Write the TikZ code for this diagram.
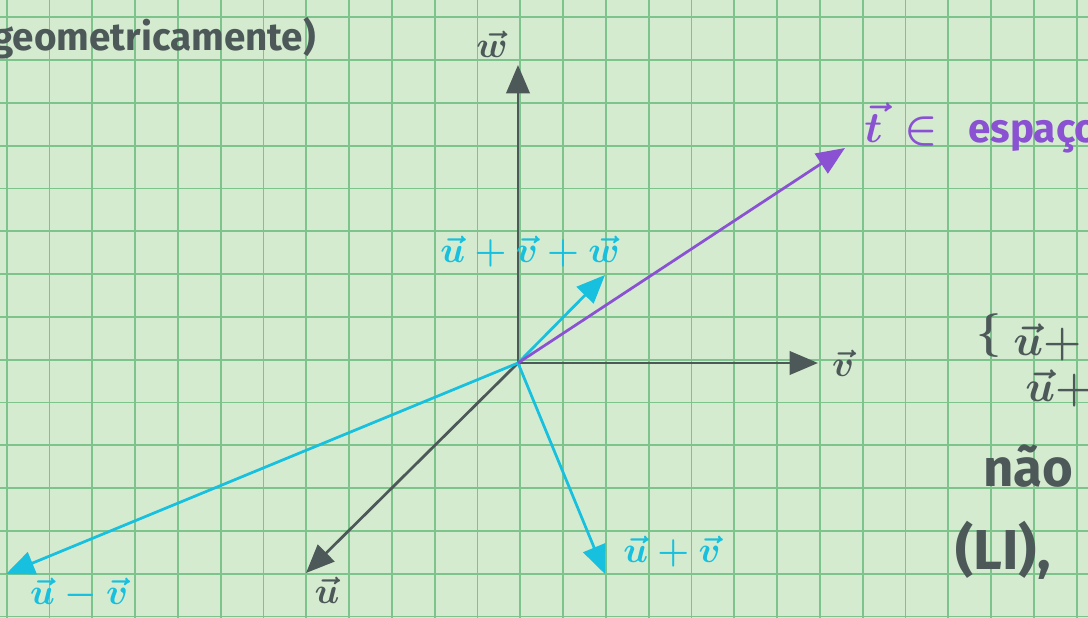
\documentclass[tikz,border=0pt]{standalone}
\usepackage{fontspec}
\setmainfont{Fira Sans}
\usetikzlibrary{arrows.meta}
\definecolor{paper}{RGB}{213,235,208}
\definecolor{gridgreen}{RGB}{125,196,140}
\definecolor{ink}{RGB}{77,89,89}
\definecolor{cyanink}{RGB}{22,192,222}
\definecolor{violetink}{RGB}{138,82,210}

\begin{document}
\begin{tikzpicture}[
  x=0.02cm,y=-0.02cm,
  gridln/.style={draw=gridgreen, line width=0.035cm},
  vec/.style={line width=0.055cm, -{Triangle[length=0.57cm,width=0.47cm]}},
  lbl/.style={inner sep=0pt, font=\fontsize{22}{22}\selectfont\boldmath},
  hand/.style={inner sep=0pt, text=ink, font=\fontsize{22}{22}\selectfont\bfseries}]
\useasboundingbox (0,0) rectangle (1088,618);
\clip (0,0) rectangle (1088,618);
\fill[paper] (0,0) rectangle (1088,618);
\foreach \i in {0,...,25}
  \draw[gridln] ({6.7+42.8*\i},0) -- ++(0,618);
\foreach \j in {0,...,14}
  \draw[gridln] (0,{17.3+42.8*\j}) -- ++(1088,0);
\coordinate (O) at (518,363);
\coordinate (w) at (518,65);
\coordinate (v) at (818,363);
\coordinate (u) at (306,573);
\coordinate (uvw) at (605,275);
\coordinate (upv) at (605,574);
\coordinate (umv) at (6,574);
\coordinate (t) at (845,148);
\draw[vec, ink] (O) -- (w);
\draw[vec, ink] (O) -- (v);
\draw[vec, ink] (O) -- (u);
\draw[vec, cyanink] (O) -- (uvw);
\draw[vec, cyanink] (O) -- (upv);
\draw[vec, cyanink] (O) -- (umv);
\draw[vec, violetink] (O) -- (t);
\node[lbl, text=ink] (wlab) at (492,44) {$\vec{w}$};
\node[lbl, text=ink] (vlab) at (843,363) {$\vec{v}$};
\node[lbl, text=ink] (ulab) at (327,590) {$\vec{u}$};
\node[lbl, text=cyanink, font=\fontsize{20}{20}\selectfont\boldmath] (uvwlab) at (530,252) {$\vec{u}+\vec{v}+\vec{w}$};
\node[lbl, text=cyanink] (upvlab) at (672,552) {$\vec{u}+\vec{v}$};
\node[lbl, text=cyanink] (umvlab) at (79,594) {$\vec{u}-\vec{v}$};
\node[lbl, text=violetink, anchor=base west, font=\fontsize{38}{38}\selectfont\boldmath] (tlab) at (864,143) {$\vec{t}\,\in$};
\node[hand, text=violetink, anchor=base west, font=\fontsize{23}{23}\selectfont\bfseries] (espaco) at (968,143) {espaço};
\node[hand, anchor=west] (title) at (-8,38) {geometricamente)};
\node[lbl, text=ink, font=\fontsize{44}{44}\selectfont\boldmath] (brace) at (989,336) {$\{$};
\node[lbl, text=ink, anchor=west, font=\fontsize{24}{24}\selectfont\boldmath] (sys1) at (1013,342) {$\vec{u}+$};
\node[lbl, text=ink, anchor=west, font=\fontsize{24}{24}\selectfont\boldmath] (sys2) at (1025,388) {$\vec{u}+$};
\node[hand, anchor=west, font=\fontsize{30}{30}\selectfont\bfseries] (nao) at (983,466) {não};
\node[hand, anchor=west, font=\fontsize{32}{32}\selectfont\bfseries] (li) at (955,550) {(LI),};
\end{tikzpicture}
\end{document}
